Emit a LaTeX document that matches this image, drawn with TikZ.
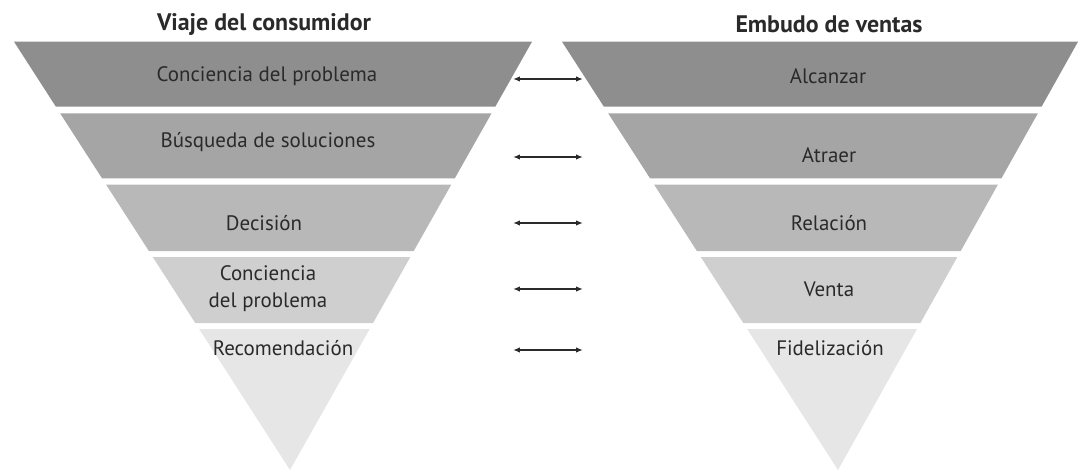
\documentclass[tikz,border=0pt]{standalone}
\usepackage{fontspec}
\setmainfont{PT Sans}
\usetikzlibrary{calc,arrows.meta}
\definecolor{bandA}{HTML}{8E8E8E}
\definecolor{bandB}{HTML}{A5A5A5}
\definecolor{bandC}{HTML}{B8B8B8}
\definecolor{bandD}{HTML}{CFCFCF}
\definecolor{bandE}{HTML}{E6E6E6}
\definecolor{txt}{HTML}{2A2A2A}
\begin{document}
\begin{tikzpicture}[x=1bp,y=-1bp,
  title/.style={font=\fontsize{24}{26}\bfseries\selectfont, text=txt, inner sep=0pt},
  lbl/.style={font=\fontsize{21}{27}\selectfont, text=txt, inner sep=0pt, align=center},
  dbl/.style={{Latex[length=7pt,width=5.5pt]}-{Latex[length=7pt,width=5.5pt]}, line width=1.4pt, draw=txt}]
\useasboundingbox (0,0) rectangle (1081,472);
\coordinate (LTL) at (14,41.7); \coordinate (LTR) at (532,41.7); \coordinate (LA) at (290,470);
\coordinate (RTL) at (562,41.7); \coordinate (RTR) at (1078,41.7); \coordinate (RA) at (838,470);
\foreach \s in {L,R}{
  \foreach \ta/\tb/\col in {0/0.1518/bandA, 0.1672/0.3189/bandB, 0.3339/0.4887/bandC, 0.5027/0.6568/bandD}{
    \fill[\col] ($(\s TL)!\ta!(\s A)$) -- ($(\s TR)!\ta!(\s A)$) -- ($(\s TR)!\tb!(\s A)$) -- ($(\s TL)!\tb!(\s A)$) -- cycle;
  }
  \fill[bandE] ($(\s TL)!0.6708!(\s A)$) -- ($(\s TR)!0.6708!(\s A)$) -- (\s A) -- cycle;
}
\node[title] (tL) at (264,24) {Viaje del consumidor};
\node[title] (tR) at (829,24) {Embudo de ventas};
\node[lbl] (l1) at (267,76) {Conciencia del problema};
\node[lbl] (l2) at (268,142) {Búsqueda de soluciones};
\node[lbl] (l3) at (264,223) {Decisión};
\node[lbl] (l4) at (268,289) {Conciencia\\del problema};
\node[lbl] (l5) at (283,348) {Recomendación};
\node[lbl] (r1) at (828,76) {Alcanzar};
\node[lbl] (r2) at (829,155) {Atraer};
\node[lbl] (r3) at (829,223) {Relación};
\node[lbl] (r4) at (829,289) {Venta};
\node[lbl] (r5) at (830,348) {Fidelización};
\foreach \i/\y in {1/79,2/157,3/223,4/289,5/350}{
  \coordinate (a\i l) at (513,\y);
  \coordinate (a\i r) at (583,\y);
  \draw[dbl] (a\i l) -- (a\i r);
}
\end{tikzpicture}
\end{document}
